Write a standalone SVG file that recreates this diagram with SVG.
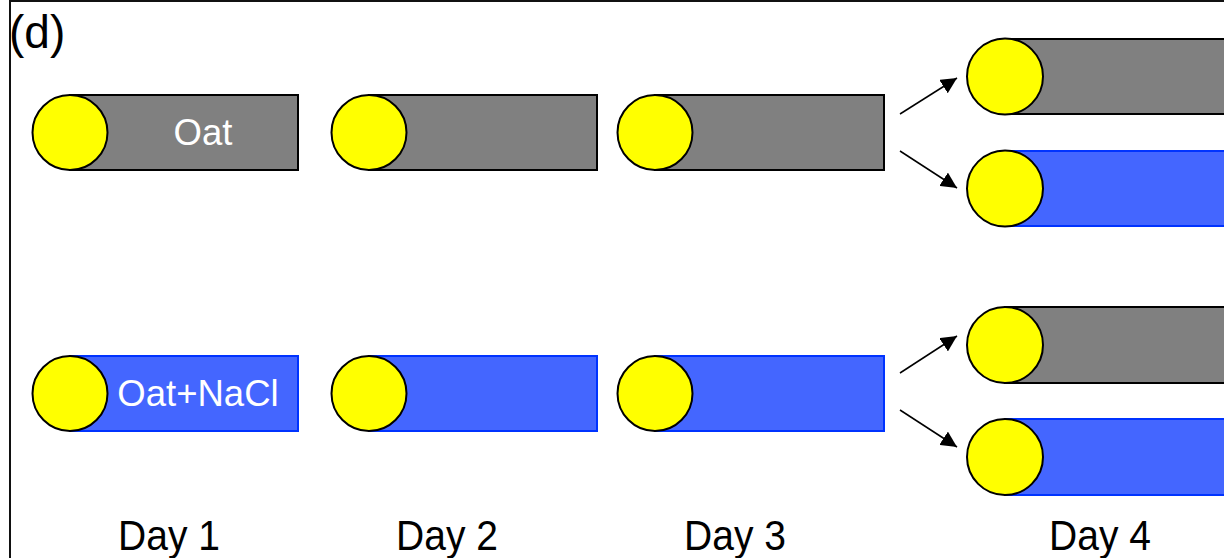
<svg xmlns="http://www.w3.org/2000/svg" width="1224" height="558" viewBox="0 0 1224 558">
<defs>
<marker id="ah" viewBox="0 0 10 10" refX="10" refY="5" markerWidth="16" markerHeight="16" markerUnits="userSpaceOnUse" orient="auto">
<path d="M0,0 L10,5 L0,10 z" fill="#000"/>
</marker>
</defs>
<style>
.g{fill:#808080;stroke:#000;stroke-width:2}
.b{fill:#4466ff;stroke:#0033ff;stroke-width:2}
.c{fill:#ffff00;stroke:#000;stroke-width:2}
.t{font-family:"Liberation Sans",Arial,sans-serif;fill:#fff;font-size:36.5px}
.d{font-family:"Liberation Sans",Arial,sans-serif;fill:#000;font-size:39px}
.a{stroke:#000;stroke-width:1.5;fill:none;marker-end:url(#ah)}
</style>
<rect width="1224" height="558" fill="#fff"/>
<path d="M10,558 V1 H1224" fill="none" stroke="#111" stroke-width="2"/>
<text x="9" y="48" class="d" style="font-size:46px">(d)</text>

<g id="r1d1"><rect class="g" x="70" y="95" width="228" height="75"/><circle class="c" cx="70" cy="132.5" r="37.5"/><text class="t" x="203" y="145" text-anchor="middle">Oat</text></g>
<g id="r1d2"><rect class="g" x="369" y="95" width="228" height="75"/><circle class="c" cx="369" cy="132.5" r="37.5"/></g>
<g id="r1d3"><rect class="g" x="655" y="95" width="229" height="75"/><circle class="c" cx="655" cy="132.5" r="37.5"/></g>

<g id="r2d1"><rect class="b" x="70" y="356" width="228" height="75"/><circle class="c" cx="70" cy="393.5" r="37.5"/><text class="t" x="198" y="406" text-anchor="middle">Oat+NaCl</text></g>
<g id="r2d2"><rect class="b" x="369" y="356" width="228" height="75"/><circle class="c" cx="369" cy="393.5" r="37.5"/></g>
<g id="r2d3"><rect class="b" x="655" y="356" width="229" height="75"/><circle class="c" cx="655" cy="393.5" r="37.5"/></g>

<g id="d4a"><rect class="g" x="1005" y="39" width="230" height="75"/><circle class="c" cx="1005" cy="76.5" r="38"/></g>
<g id="d4b"><rect class="b" x="1005" y="151" width="230" height="75"/><circle class="c" cx="1005" cy="188.5" r="38"/></g>
<g id="d4c"><rect class="g" x="1005" y="307" width="230" height="76"/><circle class="c" cx="1005" cy="345" r="38"/></g>
<g id="d4d"><rect class="b" x="1005" y="419" width="230" height="76"/><circle class="c" cx="1005" cy="457" r="38"/></g>

<g id="connectors">
<line class="a" x1="900" y1="114" x2="957" y2="78"/>
<line class="a" x1="900" y1="151" x2="957" y2="188"/>
<line class="a" x1="900" y1="373" x2="957" y2="336"/>
<line class="a" x1="900" y1="410" x2="957" y2="447"/>
</g>

<text class="d" transform="translate(169,550) scale(1,1.08)" text-anchor="middle">Day 1</text>
<text class="d" transform="translate(447,550) scale(1,1.08)" text-anchor="middle">Day 2</text>
<text class="d" transform="translate(735,550) scale(1,1.08)" text-anchor="middle">Day 3</text>
<text class="d" transform="translate(1100,550) scale(1,1.08)" text-anchor="middle">Day 4</text>
</svg>
